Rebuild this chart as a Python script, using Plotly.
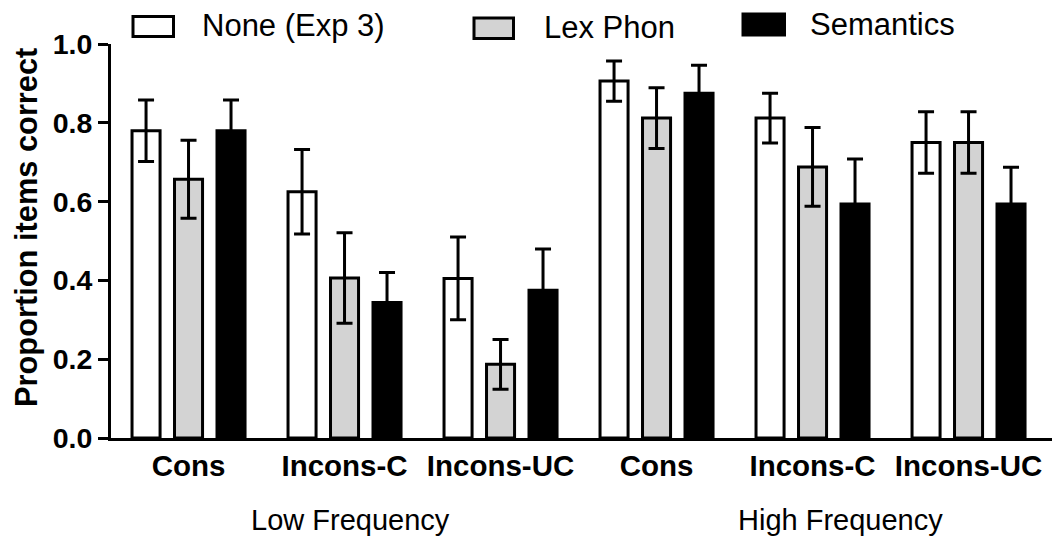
import plotly.graph_objects as go

categories = ["Cons", "Incons-C", "Incons-UC", "Cons", "Incons-C", "Incons-UC"]
groups = ["Low Frequency", "High Frequency"]
series_names = ["None (Exp 3)", "Lex Phon", "Semantics"]

none_vals = [0.78, 0.625, 0.405, 0.906, 0.812, 0.75]
none_err = [0.078, 0.107, 0.105, 0.051, 0.063, 0.078]
lex_vals = [0.657, 0.406, 0.187, 0.812, 0.688, 0.75]
lex_err = [0.099, 0.115, 0.063, 0.077, 0.100, 0.078]
sem_vals = [0.78, 0.344, 0.375, 0.875, 0.594, 0.594]
sem_err = [0.078, 0.076, 0.105, 0.071, 0.114, 0.093]

tick_vals_y = [0.0, 0.2, 0.4, 0.6, 0.8, 1.0]

# page has an 8px body margin, so the figure is sized/offset to compensate
OFF = 8
W, H = 1062 - OFF, 538 - OFF
L, R, T, B = 111 - OFF, 10, 44 - OFF, 100
PW, PH = W - L - R, H - T - B
FONT = "Arial, 'Liberation Sans', sans-serif"

fills = ["white", "#d3d3d3", "black"]
x = list(range(len(categories)))

fig = go.Figure()
for name, vals, errs, fill in zip(series_names, [none_vals, lex_vals, sem_vals],
                                  [none_err, lex_err, sem_err], fills):
    fig.add_trace(go.Bar(
        x=x, y=vals, name=name, showlegend=False,
        marker=dict(color=fill, line=dict(color="black", width=3)),
        error_y=dict(type="data", array=errs, visible=True, color="black",
                     thickness=3, width=8),
    ))

def px2paper(px, py):
    # screen pixel -> paper coords
    return (px - OFF - L) / PW, (T + PH - (py - OFF)) / PH

# manual legend
legend_pos = [((133, 16.5, 173.5, 36.5), (200, 26)),
              ((474, 18, 513.5, 38.5), (541.5, 27)),
              ((743, 14, 784.5, 35), (808, 25))]
for name, fill, (box, txt) in zip(series_names, fills, legend_pos):
    x0, y0 = px2paper(box[0], box[3])
    x1, y1 = px2paper(box[2], box[1])
    fig.add_shape(type="rect", xref="paper", yref="paper", x0=x0, y0=y0, x1=x1, y1=y1,
                  fillcolor=fill, line=dict(color="black", width=3))
    tx, ty = px2paper(*txt)
    fig.add_annotation(xref="paper", yref="paper", x=tx, y=ty, text=name,
                       showarrow=False, xanchor="left", yanchor="middle",
                       font=dict(family=FONT, size=31, color="black"))

# group labels
for gname, gx in zip(groups, [1.04, 4.18]):
    _, gy = px2paper(0, 520)
    fig.add_annotation(xref="x", yref="paper", x=gx, y=gy, text=gname,
                       showarrow=False, xanchor="center", yanchor="middle",
                       font=dict(family=FONT, size=29, color="black"))

# y title
tx, ty = px2paper(27, 228)
fig.add_annotation(xref="paper", yref="paper", x=tx, y=ty, text="<b>Proportion items correct</b>",
                   showarrow=False, textangle=-90, xanchor="center", yanchor="middle",
                   font=dict(family=FONT, size=30.8, color="black"))

fig.update_layout(
    width=W, height=H,
    margin=dict(l=L, r=R, t=T, b=B),
    paper_bgcolor="white", plot_bgcolor="white",
    barmode="group", bargap=0.183, bargroupgap=0.34,
    font=dict(family=FONT, color="black"),
)
fig.update_xaxes(
    range=[-0.497, 5.535], tickmode="array", tickvals=x,
    ticktext=["<b>%s</b>" % c for c in categories],
    tickfont=dict(family=FONT, size=29.5, color="black"),
    showline=True, linecolor="black", linewidth=3, ticks="",
    showgrid=False, zeroline=False,
)
fig.update_yaxes(
    range=[0, 1.0], tickmode="array", tickvals=tick_vals_y,
    ticktext=["<b>%.1f</b>" % v for v in tick_vals_y],
    tickfont=dict(family=FONT, size=28.5, color="black"),
    showline=True, linecolor="black", linewidth=3, ticks="outside",
    ticklen=10, tickwidth=3, tickcolor="black",
    showgrid=False, zeroline=False,
)

fig.write_html("out.html")
